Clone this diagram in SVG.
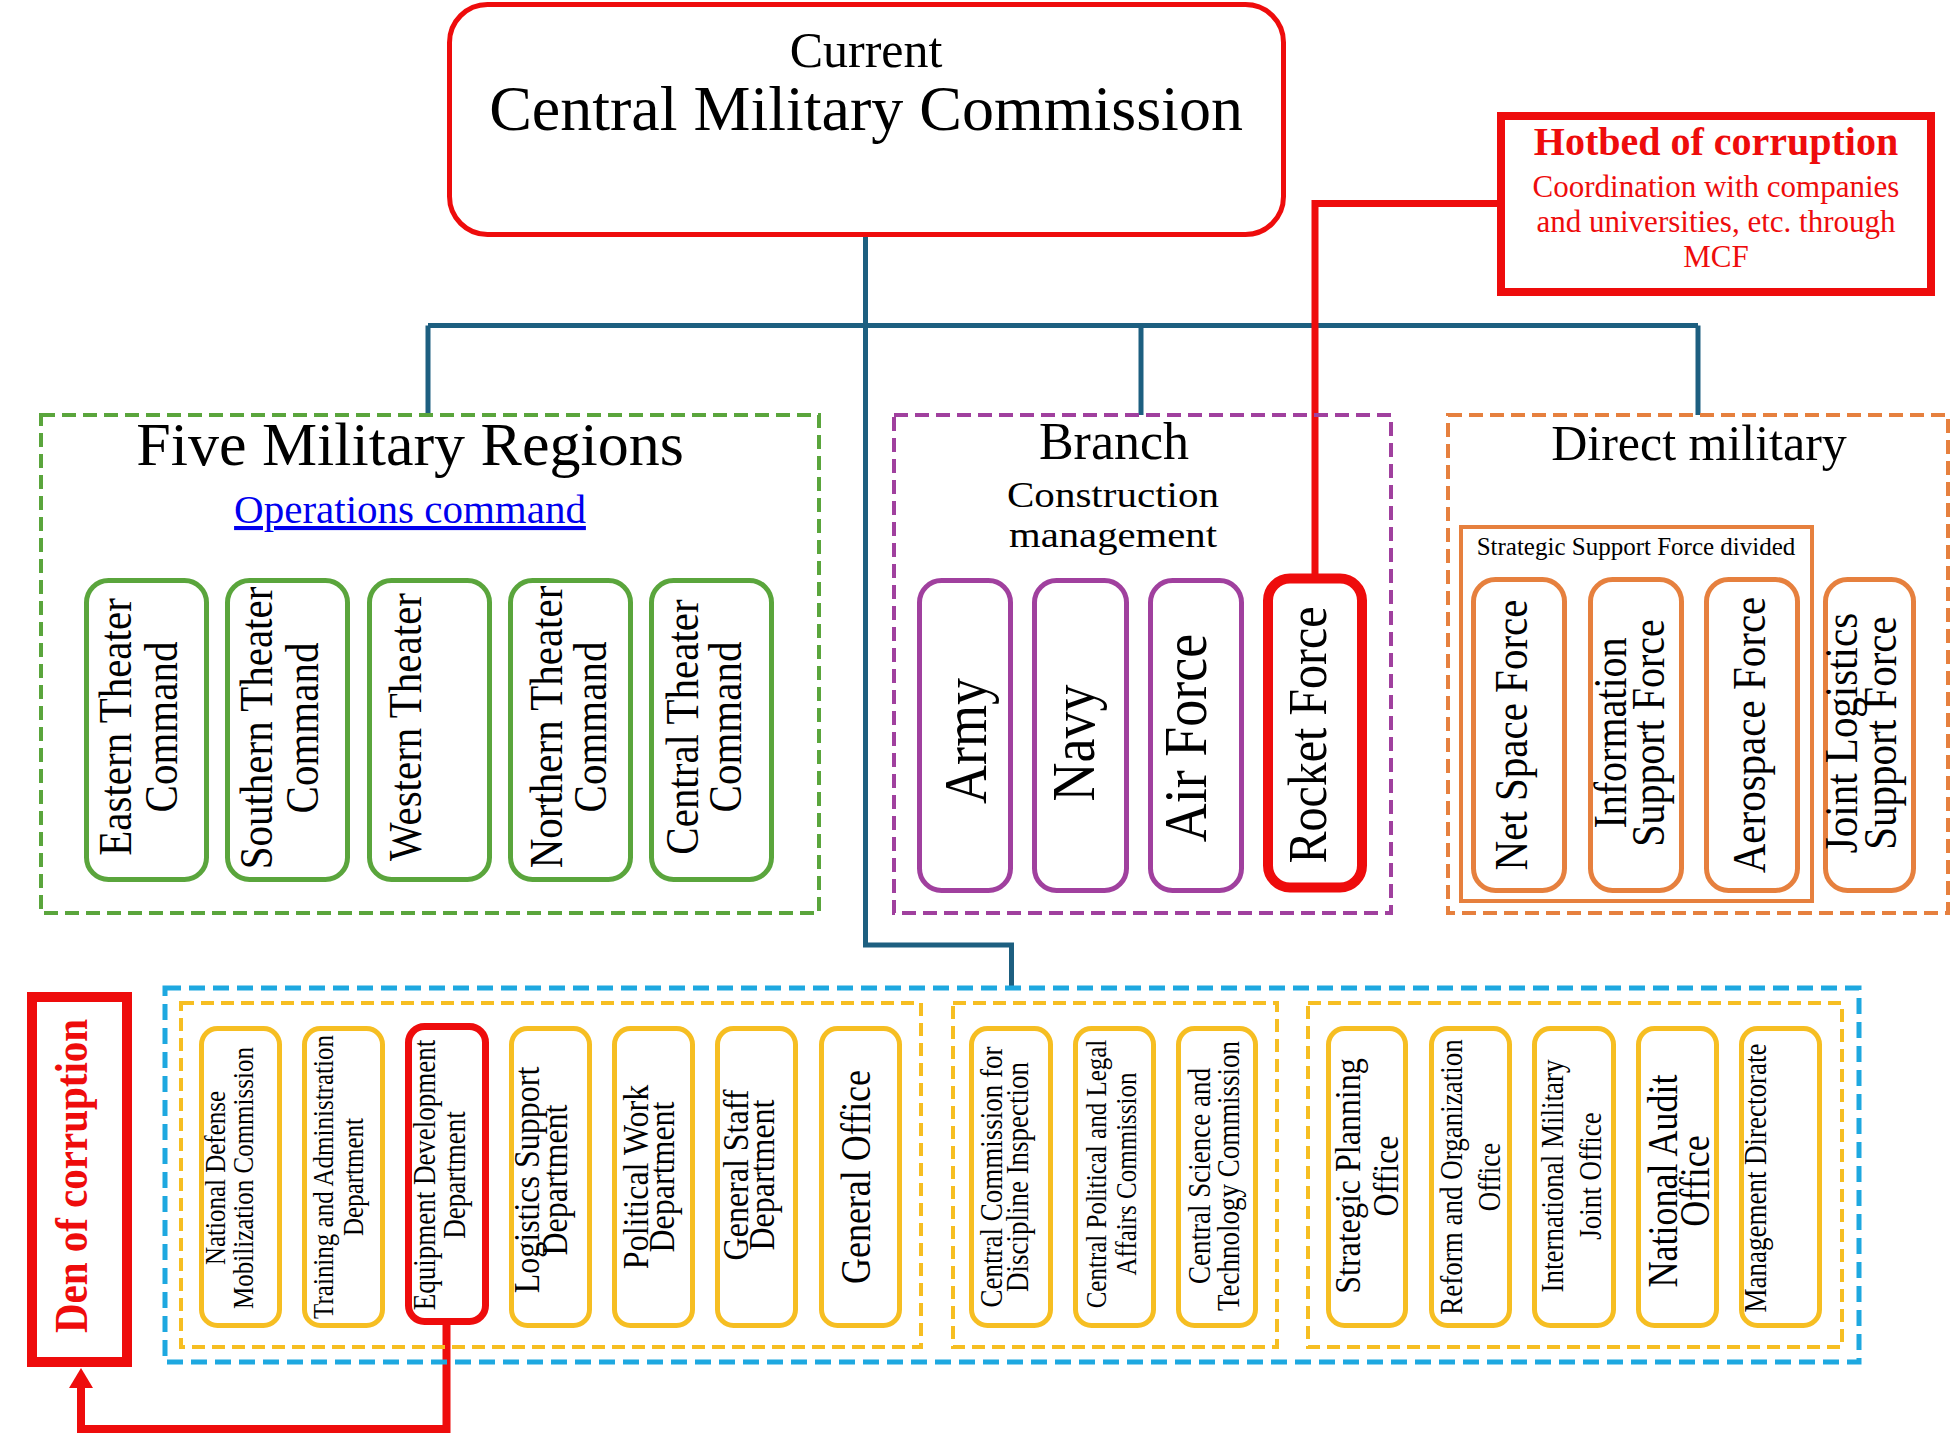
<svg xmlns="http://www.w3.org/2000/svg" width="1957" height="1439" viewBox="0 0 1957 1439">
<defs>
<style>
text{font-family:"Liberation Serif","Times New Roman",serif;fill:#000;}
.c{text-anchor:middle;}
.red{fill:#ee0c0c;}
.b{font-weight:bold;}
.rb{fill:none;stroke:#ee0c0c;}
.dash{fill:none;stroke-width:4;stroke-dasharray:14 7;}
.g{fill:#fff;stroke:#5aa53c;stroke-width:5;}
.p{fill:#fff;stroke:#a0409e;stroke-width:5;}
.o{fill:#fff;stroke:#e6803e;stroke-width:5;}
.y{fill:#fff;stroke:#f6be22;stroke-width:5;}
.conn{fill:none;stroke:#1d5f80;stroke-width:5;}
.rconn{fill:none;stroke:#ee0c0c;stroke-width:7;}
</style>
<marker id="arrowUp" markerUnits="userSpaceOnUse" markerWidth="22" markerHeight="24" viewBox="0 0 20 24" refX="0" refY="12" orient="auto">
<path d="M0,0 L20,12 L0,24 Z" fill="#ee0c0c"/>
</marker>
</defs>
<rect width="1957" height="1439" fill="#fff"/>

<g id="connectors">
<path class="conn" d="M865.5 237 V945 H1011.5 V988"/>
<path class="conn" d="M428 325.5 H1698"/>
<path class="conn" d="M428 325.5 V415"/>
<path class="conn" d="M1141 325.5 V415"/>
<path class="conn" d="M1698 325.5 V415"/>
<path class="rconn" d="M1497 203.5 H1315 V574"/>
<path class="rconn" style="stroke-width:8" d="M446.5 1325 V1429 H81 V1388" marker-end="url(#arrowUp)"/>
</g>

<g id="cmc">
<rect x="449.5" y="4.5" width="834" height="230" rx="38" fill="#fff" stroke="#ee0c0c" stroke-width="5"/>
<text class="c" x="866" y="67" font-size="50">Current</text>
<text class="c" x="866" y="130" font-size="64">Central Military Commission</text>
</g>

<g id="hotbed">
<rect x="1501" y="116" width="430" height="176" fill="#fff" class="rb" stroke-width="8"/>
<text class="c red b" x="1716" y="155" font-size="40">Hotbed of corruption</text>
<text class="c red" font-size="31"><tspan x="1716" y="197">Coordination with companies</tspan><tspan x="1716" y="232">and universities, etc. through</tspan><tspan x="1716" y="267">MCF</tspan></text>
</g>

<g id="five-regions">
<rect x="41" y="415" width="778" height="498" class="dash" stroke="#5aa53c"/>
<text class="c" x="410" y="465" font-size="62">Five Military Regions</text>
<text class="c" x="410" y="523" font-size="41" fill="#0000ee" style="fill:#0000ee" text-decoration="underline">Operations command</text>
</g>
<g id="eastern"><rect class="g" x="86.5" y="580.5" width="120" height="299" rx="22"/>
<text class="c" font-size="41" transform="translate(131,727) scale(1.15,1) rotate(-90)"><tspan x="0" y="0">Eastern Theater</tspan><tspan x="0" y="40">Command</tspan></text></g>
<g id="southern"><rect class="g" x="227.5" y="580.5" width="120" height="299" rx="22"/>
<text class="c" font-size="41" transform="translate(272,728) scale(1.15,1) rotate(-90)"><tspan x="0" y="0">Southern Theater</tspan><tspan x="0" y="40">Command</tspan></text></g>
<g id="western"><rect class="g" x="369.5" y="580.5" width="120" height="299" rx="22"/>
<text class="c" font-size="41" transform="translate(421,727) scale(1.15,1) rotate(-90)">Western Theater</text></g>
<g id="northern"><rect class="g" x="510.5" y="580.5" width="120" height="299" rx="22"/>
<text class="c" font-size="41" transform="translate(562,727) scale(1.15,1) rotate(-90)"><tspan x="0" y="0">Northern Theater</tspan><tspan x="0" y="38">Command</tspan></text></g>
<g id="central-theater"><rect class="g" x="651.5" y="580.5" width="120" height="299" rx="22"/>
<text class="c" font-size="41" transform="translate(698,727) scale(1.15,1) rotate(-90)"><tspan x="0" y="0">Central Theater</tspan><tspan x="0" y="37">Command</tspan></text></g>

<g id="branch">
<rect x="894" y="415" width="497" height="498" class="dash" stroke="#a0409e"/>
<text class="c" x="1114" y="459" font-size="52">Branch</text>
<text class="c" font-size="36"><tspan x="1113" y="507" textLength="212" lengthAdjust="spacingAndGlyphs">Construction</tspan><tspan x="1113" y="547" textLength="208" lengthAdjust="spacingAndGlyphs">management</tspan></text>
</g>
<g id="army"><rect class="p" x="919.5" y="580.5" width="91" height="310" rx="22"/>
<text class="c" font-size="54" transform="translate(986,741) scale(1.15,1) rotate(-90)">Army</text></g>
<g id="navy"><rect class="p" x="1034.5" y="580.5" width="92" height="310" rx="22"/>
<text class="c" font-size="54" transform="translate(1094,743) scale(1.15,1) rotate(-90)">Navy</text></g>
<g id="airforce"><rect class="p" x="1150.5" y="580.5" width="91" height="310" rx="22"/>
<text class="c" font-size="54" transform="translate(1206,738) scale(1.15,1) rotate(-90)">Air Force</text></g>
<g id="rocketforce"><rect x="1268" y="578.5" width="94" height="309" rx="22" fill="#fff" class="rb" stroke-width="10"/>
<text class="c" font-size="48" transform="translate(1326,735) scale(1.15,1) rotate(-90)">Rocket Force</text></g>

<g id="direct">
<rect x="1448" y="415" width="500" height="498" class="dash" stroke="#e6803e"/>
<text class="c" x="1699" y="460" font-size="50">Direct military</text>
</g>
<g id="ssf">
<rect x="1461" y="527" width="351" height="374" fill="none" stroke="#e6803e" stroke-width="4"/>
<text class="c" x="1636" y="555" font-size="25">Strategic Support Force divided</text>
</g>
<g id="netspace"><rect class="o" x="1473.5" y="579.5" width="91" height="311" rx="22"/>
<text class="c" font-size="41" transform="translate(1527,735) scale(1.15,1) rotate(-90)">Net Space Force</text></g>
<g id="info"><rect class="o" x="1590.5" y="579.5" width="91" height="311" rx="22"/>
<text class="c" font-size="40" transform="translate(1626,733) scale(1.15,1) rotate(-90)"><tspan x="0" y="0">Information</tspan><tspan x="0" y="33">Support Force</tspan></text></g>
<g id="aerospace"><rect class="o" x="1706.5" y="579.5" width="91" height="311" rx="22"/>
<text class="c" font-size="41" transform="translate(1765,735) scale(1.15,1) rotate(-90)">Aerospace Force</text></g>
<g id="jointlog"><rect class="o" x="1825.5" y="579.5" width="88" height="311" rx="22"/>
<text class="c" font-size="41" transform="translate(1857,733) scale(1.15,1) rotate(-90)"><tspan x="0" y="0">Joint Logistics</tspan><tspan x="0" y="34">Support Force</tspan></text></g>

<g id="den">
<rect x="32" y="997" width="95" height="365" fill="#fff" class="rb" stroke-width="10"/>
<text class="c red b" font-size="41" transform="translate(87,1176) scale(1.15,1) rotate(-90)">Den of corruption</text>
</g>

<g id="departments">
<rect x="165" y="988" width="1694" height="374" class="dash" stroke="#1ea8e0" style="stroke-width:5;stroke-dasharray:16 8"/>
<rect x="181" y="1003" width="740" height="344" class="dash" stroke="#f6be22" style="stroke-dasharray:13 7"/>
<rect x="953" y="1003" width="324" height="344" class="dash" stroke="#f6be22" style="stroke-dasharray:13 7"/>
<rect x="1308" y="1003" width="534" height="344" class="dash" stroke="#f6be22" style="stroke-dasharray:13 7"/>
</g>

<g id="natdef"><rect class="y" x="201.5" y="1028.5" width="78" height="297" rx="16"/>
<text class="c" font-size="25" transform="translate(225,1178) scale(1.15,1) rotate(-90)"><tspan x="0" y="0">National Defense</tspan><tspan x="0" y="24">Mobilization Commission</tspan></text></g>
<g id="training"><rect class="y" x="304.5" y="1028.5" width="78" height="297" rx="16"/>
<text class="c" font-size="25" transform="translate(333,1177) scale(1.15,1) rotate(-90)"><tspan x="0" y="0">Training and Administration</tspan><tspan x="0" y="26">Department</tspan></text></g>
<g id="equipment"><rect x="408.5" y="1026.5" width="77" height="295" rx="16" fill="#fff" class="rb" stroke-width="7"/>
<text class="c" font-size="27" transform="translate(435,1175) scale(1.15,1) rotate(-90)"><tspan x="0" y="0">Equipment Development</tspan><tspan x="0" y="26">Department</tspan></text></g>
<g id="logistics"><rect class="y" x="511.5" y="1028.5" width="78" height="297" rx="16"/>
<text class="c" font-size="32" transform="translate(539,1180) scale(1.15,1) rotate(-90)"><tspan x="0" y="0">Logistics Support</tspan><tspan x="0" y="24">Department</tspan></text></g>
<g id="political"><rect class="y" x="614.5" y="1028.5" width="78" height="297" rx="16"/>
<text class="c" font-size="32" transform="translate(648,1177) scale(1.15,1) rotate(-90)"><tspan x="0" y="0">Political Work</tspan><tspan x="0" y="23">Department</tspan></text></g>
<g id="generalstaff"><rect class="y" x="717.5" y="1028.5" width="78" height="297" rx="16"/>
<text class="c" font-size="32" transform="translate(748,1175) scale(1.15,1) rotate(-90)"><tspan x="0" y="0">General Staff</tspan><tspan x="0" y="23">Department</tspan></text></g>
<g id="generaloffice"><rect class="y" x="821.5" y="1028.5" width="78" height="297" rx="16"/>
<text class="c" font-size="36" transform="translate(870,1177) scale(1.15,1) rotate(-90)">General Office</text></g>

<g id="ccdi"><rect class="y" x="971.5" y="1028.5" width="79" height="297" rx="16"/>
<text class="c" font-size="27" transform="translate(1002,1177) scale(1.15,1) rotate(-90)"><tspan x="0" y="0">Central Commission for</tspan><tspan x="0" y="23">Discipline Inspection</tspan></text></g>
<g id="cpla"><rect class="y" x="1075.5" y="1028.5" width="78" height="297" rx="16"/>
<text class="c" font-size="25" transform="translate(1106,1174) scale(1.15,1) rotate(-90)"><tspan x="0" y="0">Central Political and Legal</tspan><tspan x="0" y="26">Affairs Commission</tspan></text></g>
<g id="cstc"><rect class="y" x="1178.5" y="1028.5" width="77" height="297" rx="16"/>
<text class="c" font-size="27" transform="translate(1210,1176) scale(1.15,1) rotate(-90)"><tspan x="0" y="0">Central Science and</tspan><tspan x="0" y="25">Technology Commission</tspan></text></g>

<g id="strategic"><rect class="y" x="1328.5" y="1028.5" width="77" height="297" rx="16"/>
<text class="c" font-size="32" transform="translate(1360,1176) scale(1.15,1) rotate(-90)"><tspan x="0" y="0">Strategic Planning</tspan><tspan x="0" y="33">Office</tspan></text></g>
<g id="reform"><rect class="y" x="1431.5" y="1028.5" width="78" height="297" rx="16"/>
<text class="c" font-size="27" transform="translate(1462,1177) scale(1.15,1) rotate(-90)"><tspan x="0" y="0">Reform and Organization</tspan><tspan x="0" y="33">Office</tspan></text></g>
<g id="intl"><rect class="y" x="1534.5" y="1028.5" width="79" height="297" rx="16"/>
<text class="c" font-size="27" transform="translate(1563,1176) scale(1.15,1) rotate(-90)"><tspan x="0" y="0">International Military</tspan><tspan x="0" y="33">Joint Office</tspan></text></g>
<g id="audit"><rect class="y" x="1638.5" y="1028.5" width="78" height="297" rx="16"/>
<text class="c" font-size="36" transform="translate(1677,1181) scale(1.15,1) rotate(-90)"><tspan x="0" y="0">National Audit</tspan><tspan x="0" y="28">Office</tspan></text></g>
<g id="mgmt"><rect class="y" x="1741.5" y="1028.5" width="78" height="297" rx="16"/>
<text class="c" font-size="27" transform="translate(1766,1178) scale(1.15,1) rotate(-90)">Management Directorate</text></g>
</svg>
